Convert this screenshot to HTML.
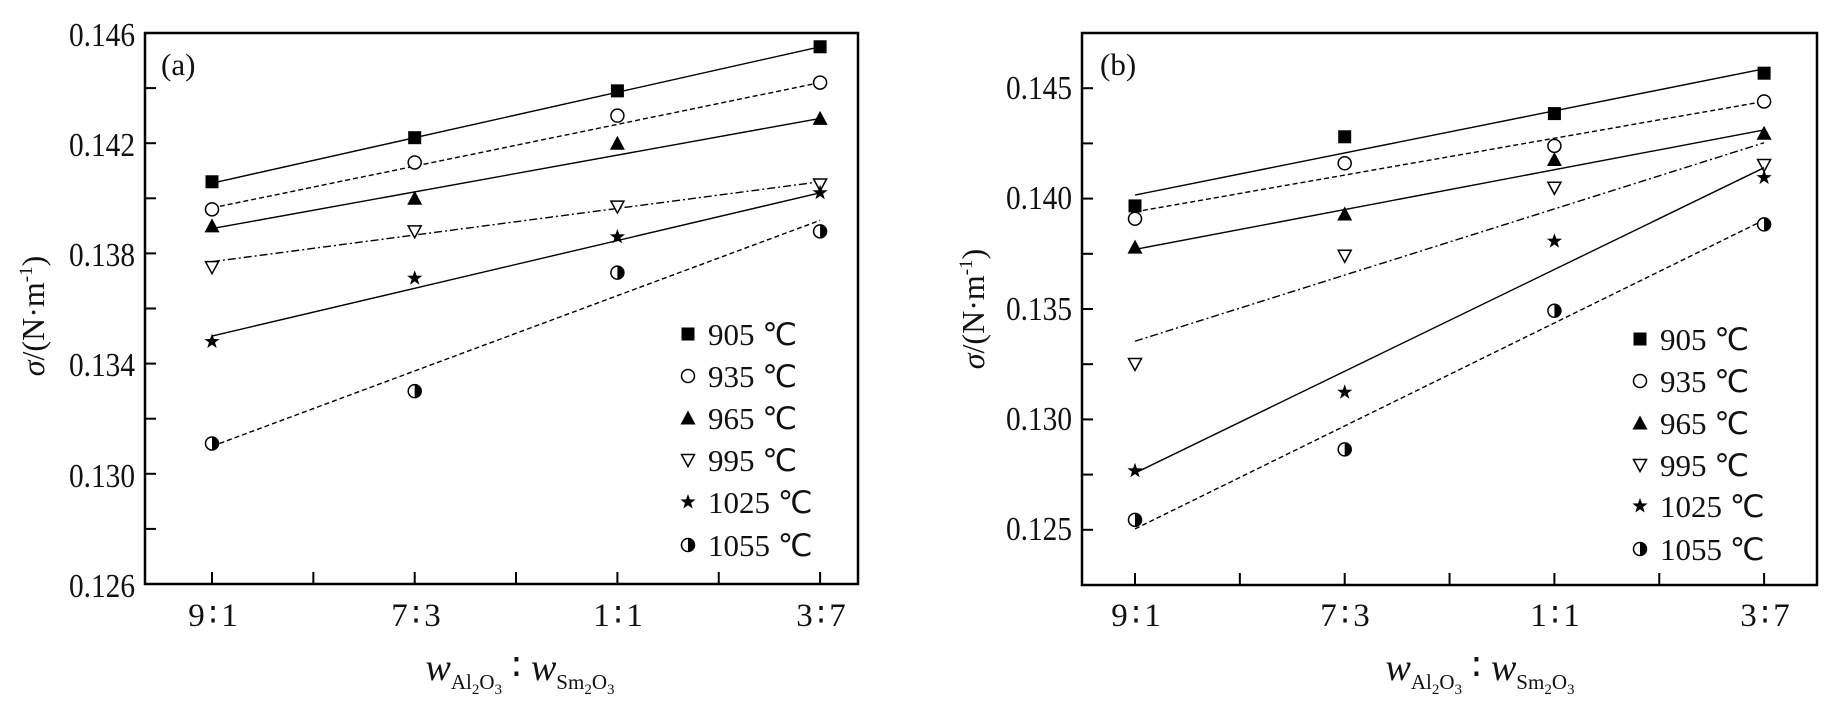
<!DOCTYPE html>
<html><head><meta charset="utf-8"><style>
html,body{margin:0;padding:0;background:#fff;}
svg{display:block;font-family:"Liberation Serif",serif;}
</style></head><body>
<svg id="s" width="1829" height="713" viewBox="0 0 1829 713" xmlns="http://www.w3.org/2000/svg">
<g fill="none" stroke="#000" stroke-width="2.5">
<rect x="145" y="33" width="713" height="551"/>
<rect x="1082" y="33" width="735" height="552"/>
</g>
<g font-size="34" fill="#111" text-anchor="end">
<text x="135" y="46" textLength="66" lengthAdjust="spacingAndGlyphs">0.146</text>
<text x="135" y="156" textLength="66" lengthAdjust="spacingAndGlyphs">0.142</text>
<text x="135" y="266" textLength="66" lengthAdjust="spacingAndGlyphs">0.138</text>
<text x="135" y="376" textLength="66" lengthAdjust="spacingAndGlyphs">0.134</text>
<text x="135" y="487" textLength="66" lengthAdjust="spacingAndGlyphs">0.130</text>
<text x="135" y="597" textLength="66" lengthAdjust="spacingAndGlyphs">0.126</text>
<text x="1072" y="99" textLength="66" lengthAdjust="spacingAndGlyphs">0.145</text>
<text x="1072" y="209" textLength="66" lengthAdjust="spacingAndGlyphs">0.140</text>
<text x="1072" y="320" textLength="66" lengthAdjust="spacingAndGlyphs">0.135</text>
<text x="1072" y="430" textLength="66" lengthAdjust="spacingAndGlyphs">0.130</text>
<text x="1072" y="540" textLength="66" lengthAdjust="spacingAndGlyphs">0.125</text>
</g>
<g font-size="33" fill="#111" text-anchor="middle" letter-spacing="4">
<text x="215" y="626">9∶1</text><text x="418" y="626">7∶3</text><text x="620" y="626">1∶1</text><text x="823" y="626">3∶7</text>
<text x="1138" y="626">9∶1</text><text x="1347" y="626">7∶3</text><text x="1557" y="626">1∶1</text><text x="1767" y="626">3∶7</text>
</g>
<g font-size="31" fill="#111">
<text x="161" y="75">(a)</text>
<text x="1100" y="75">(b)</text>
</g>
<g font-size="32" fill="#111">
<text transform="translate(44,316) rotate(-90)" text-anchor="middle"><tspan font-style="italic">σ</tspan>/(N·m<tspan font-size="19" dy="-12">-1</tspan><tspan dy="12">)</tspan></text>
<text transform="translate(984,309) rotate(-90)" text-anchor="middle"><tspan font-style="italic">σ</tspan>/(N·m<tspan font-size="19" dy="-12">-1</tspan><tspan dy="12">)</tspan></text>
<text x="520" y="680" text-anchor="middle"><tspan font-style="italic" font-size="38">w</tspan><tspan font-size="21" dy="9">Al</tspan><tspan font-size="15" dy="5">2</tspan><tspan font-size="21" dy="-5">O</tspan><tspan font-size="15" dy="5">3</tspan><tspan font-size="38" dy="-14"> ∶ </tspan><tspan font-style="italic" font-size="38">w</tspan><tspan font-size="21" dy="9">Sm</tspan><tspan font-size="15" dy="5">2</tspan><tspan font-size="21" dy="-5">O</tspan><tspan font-size="15" dy="5">3</tspan></text>
<text x="1480" y="680" text-anchor="middle"><tspan font-style="italic" font-size="38">w</tspan><tspan font-size="21" dy="9">Al</tspan><tspan font-size="15" dy="5">2</tspan><tspan font-size="21" dy="-5">O</tspan><tspan font-size="15" dy="5">3</tspan><tspan font-size="38" dy="-14"> ∶ </tspan><tspan font-style="italic" font-size="38">w</tspan><tspan font-size="21" dy="9">Sm</tspan><tspan font-size="15" dy="5">2</tspan><tspan font-size="21" dy="-5">O</tspan><tspan font-size="15" dy="5">3</tspan></text>
</g>
<g font-size="31" fill="#111">
<text x="708" y="345">905 ℃</text><text x="708" y="387">935 ℃</text><text x="708" y="429">965 ℃</text>
<text x="708" y="471">995 ℃</text><text x="708" y="513">1025 ℃</text><text x="708" y="556">1055 ℃</text>
<text x="1660" y="350">905 ℃</text><text x="1660" y="392">935 ℃</text><text x="1660" y="434">965 ℃</text>
<text x="1660" y="476">995 ℃</text><text x="1660" y="517">1025 ℃</text><text x="1660" y="560">1055 ℃</text>
</g>
<g id="dyn"></g>
</svg>
<script>
var NS="http://www.w3.org/2000/svg",g=document.getElementById("dyn");
function el(t,a){var e=document.createElementNS(NS,t);for(var k in a)e.setAttribute(k,a[k]);g.appendChild(e);return e;}
function mk(type,x,y){
 var s=6.5;
 if(type==0)el("rect",{x:x-s,y:y-s,width:2*s,height:2*s,fill:"#000"});
 else if(type==1)el("circle",{cx:x,cy:y,r:s,fill:"#fff",stroke:"#000","stroke-width":1.5});
 else if(type==2)el("polygon",{points:(x)+","+(y-s-1)+" "+(x-s-1)+","+(y+s)+" "+(x+s+1)+","+(y+s),fill:"#000"});
 else if(type==3)el("polygon",{points:(x)+","+(y+s)+" "+(x-s)+","+(y-s+1)+" "+(x+s)+","+(y-s+1),fill:"#fff",stroke:"#000","stroke-width":1.5});
 else if(type==4){var p=[];for(var i=0;i<10;i++){var r=i%2?3.2:8,a=-Math.PI/2+i*Math.PI/5;p.push((x+r*Math.cos(a)).toFixed(1)+","+(y+r*Math.sin(a)).toFixed(1));}el("polygon",{points:p.join(" "),fill:"#000"});}
 else {el("circle",{cx:x,cy:y,r:s,fill:"#fff",stroke:"#000","stroke-width":1.5});el("path",{d:"M"+x+","+(y-s)+" A"+s+","+s+" 0 0 1 "+x+","+(y+s)+" Z",fill:"#000"});}
}
var dash=["","5,3","","8,3,2,3","","5,3"];
function panel(P){
 function X(i){return P.x0+P.dx*i;} function Y(v){return P.y0+(P.vt-v)/P.vr*P.h;}
 for(var v=P.vb;v<=P.vt+1e-9;v+=P.vs){var y=Y(v);el("line",{x1:P.L,x2:P.L+11,y1:y,y2:y,stroke:"#000","stroke-width":2});}
 for(var i=0;i<=6;i++){var x=P.x0+P.dx*i/2;if(x<P.R-2)el("line",{x1:x,x2:x,y1:P.B,y2:P.B-12,stroke:"#000","stroke-width":2});}
 for(var s=0;s<6;s++){
  el("line",{x1:X(0),y1:Y(P.ln[s][0]),x2:X(3),y2:Y(P.ln[s][1]),stroke:"#000","stroke-width":1.4,"stroke-dasharray":dash[s]});
  for(var i=0;i<4;i++)mk(s,X(i),Y(P.d[s][i]));
  mk(s,P.lx,P.ly[s]);
 }
}
panel({L:145,R:858,B:584,x0:212,dx:202.7,y0:33,vt:0.146,vr:0.020,h:551,vb:0.126,vs:0.002,lx:688,ly:[334,376,418,460,502,545],
 d:[[0.1406,0.1422,0.1439,0.1455],[0.1396,0.1413,0.1430,0.1442],[0.1390,0.1400,0.1420,0.1429],[0.1375,0.1388,0.1397,0.1405],[0.1348,0.1371,0.1386,0.1402],[0.1311,0.1330,0.1373,0.1388]],
 ln:[[0.14055,0.1455],[0.13965,0.1442],[0.1389,0.1429],[0.1377,0.1406],[0.1350,0.1402],[0.1310,0.1392]]});
panel({L:1082,R:1817,B:585,x0:1135,dx:209.7,y0:33,vt:0.1475,vr:0.025,h:552,vb:0.1225,vs:0.0025,lx:1640,ly:[339,381,423,465,506,549],
 d:[[0.13967,0.1428,0.14385,0.14568],[0.13909,0.1416,0.14239,0.1444],[0.1378,0.1393,0.14177,0.14296],[0.13251,0.13741,0.14049,0.14152],[0.12767,0.13123,0.13807,0.14095],[0.12545,0.12864,0.13492,0.13883]],
 ln:[[0.14016,0.14588],[0.1394,0.1444],[0.1377,0.14311],[0.13354,0.14253],[0.12757,0.1414],[0.12504,0.13903]]});
</script>
</body></html>
